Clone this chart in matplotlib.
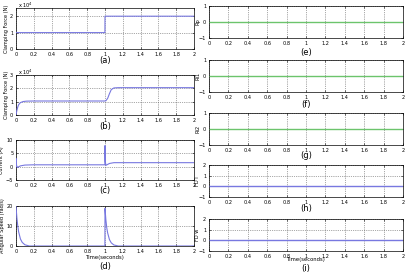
import matplotlib
matplotlib.use("Agg")
import matplotlib.pyplot as plt
from matplotlib.ticker import FuncFormatter

# ---- data ----
x_ticks = [0, 0.2, 0.4, 0.6, 0.8, 1, 1.2, 1.4, 1.6, 1.8, 2]
x_tick_labels = ["0", "0.2", "0.4", "0.6", "0.8", "1", "1.2", "1.4", "1.6", "1.8", "2"]

t_a = [0, 0.999, 1.0, 2.0]
force_a = [10000, 10000, 20000, 20000]

t_b = [0, 0.01, 0.02, 0.03, 0.05, 0.08, 0.12, 0.2, 1.0, 1.01, 1.03, 1.05, 1.07, 1.1, 1.15, 2.0]
force_b = [0, 3500, 6000, 7800, 9300, 10100, 10400, 10500, 10500, 10700, 12500, 16000, 19000, 20300, 20500, 20500]

t_c = [0, 0.002, 0.006, 0.015, 0.05, 0.1, 0.2, 0.999, 1.0, 1.003, 1.01, 1.05, 1.1, 2.0]
current_c = [0, 3.0, 0.5, -0.3, 0.3, 0.6, 0.7, 0.7, 7.9, 2.0, 0.5, 1.2, 1.5, 1.5]

t_d = [0, 0.01, 0.02, 0.03, 0.05, 0.07, 0.1, 0.15, 0.999, 1.0, 1.01, 1.02, 1.03, 1.05, 1.07, 1.1, 1.15, 2.0]
speed_d = [20, 14, 10, 7, 3.5, 1.8, 0.6, 0, 0, 18.8, 13, 9, 6.5, 3.2, 1.6, 0.5, 0, 0]

t_flat = [0, 2]
err_e = [0, 0]
err_f = [0, 0]
err_g = [0, 0]
err_h = [0, 0]
err_i = [0, 0]

left_labels = ["(a)", "(b)", "(c)", "(d)"]
right_labels = ["(e)", "(f)", "(g)", "(h)", "(i)"]
left_ylabels = ["Clamping Force (N)", "Clamping Force (N)", "Current (A)", "Angular Speed (rad/s)"]
right_ylabels = ["Rp", "Ri1", "Ri2", "FD i", "FD w"]

BLUE = "#7878e0"
GREEN = "#6cc46c"

W, H = 408, 272
fig = plt.figure(figsize=(W / 100, H / 100), dpi=100)

def px_axes(x0, y0, x1, y1):
    return fig.add_axes([x0 / W, 1 - y1 / H, (x1 - x0) / W, (y1 - y0) / H])

TICK_FS = 3.6
LAB_FS = 3.6

def style(ax):
    ax.set_xlim(0, 2)
    ax.set_xticks(x_ticks)
    ax.set_xticklabels(x_tick_labels)
    ax.tick_params(labelsize=TICK_FS, length=1.5, width=0.4, pad=2, direction="in",
                   top=True, right=True)
    ax.grid(True, color="#555555", linestyle=":", linewidth=0.5)
    ax.set_axisbelow(True)
    for s in ax.spines.values():
        s.set_linewidth(0.5)

# left column
left_boxes = [(8, 49), (75, 115), (140, 180), (206, 246)]
left_series = [(t_a, force_a), (t_b, force_b), (t_c, current_c), (t_d, speed_d)]
left_ylims = [(0, 25000), (0, 30000), (-5, 10), (0, 20)]
left_yticks = [[0, 10000, 20000], [0, 10000, 20000, 30000], [-5, 0, 5, 10], [0, 10, 20]]
left_label_y = [61, 126, 191, 266]

for k in range(4):
    y0, y1 = left_boxes[k]
    ax = px_axes(16, y0, 194, y1)
    t, v = left_series[k]
    ax.plot(t, v, color=BLUE, linewidth=0.8, zorder=3)
    style(ax)
    ax.set_ylim(*left_ylims[k])
    ax.set_yticks(left_yticks[k])
    if k < 2:
        ax.yaxis.set_major_formatter(FuncFormatter(lambda v, p: f"{v / 1e4:g}"))
        fig.text(18 / W, 1 - (y0 - 3) / H, r"x 10$^4$", fontsize=3.6, ha="left", va="center")
    ax.set_ylabel(left_ylabels[k], fontsize=LAB_FS, labelpad=1)
    fig.text(105 / W, 1 - left_label_y[k] / H, left_labels[k], fontsize=6, ha="center", va="center")

fig.text(105 / W, 1 - 257.5 / H, "Time(seconds)", fontsize=3.8, ha="center", va="center")

# right column
right_boxes = [(6, 38), (60, 92), (113, 145), (165, 197), (219, 251)]
right_series = [err_e, err_f, err_g, err_h, err_i]
right_colors = [GREEN, GREEN, GREEN, BLUE, BLUE]
right_ylims = [(-1, 1), (-1, 1), (-1, 1), (-1, 2), (-1, 2)]
right_yticks = [[-1, 0, 1], [-1, 0, 1], [-1, 0, 1], [-1, 0, 1, 2], [-1, 0, 1, 2]]
right_label_y = [53, 104, 156, 208, 268]

for k in range(5):
    y0, y1 = right_boxes[k]
    ax = px_axes(209, y0, 403, y1)
    ax.plot(t_flat, right_series[k], color=right_colors[k], linewidth=1.0, zorder=3,
            solid_capstyle="butt")
    style(ax)
    ax.set_ylim(*right_ylims[k])
    ax.set_yticks(right_yticks[k])
    ax.set_ylabel(right_ylabels[k], fontsize=LAB_FS)
    ax.yaxis.set_label_coords(-0.045, 0.5)
    fig.text(306 / W, 1 - right_label_y[k] / H, right_labels[k], fontsize=6, ha="center", va="center")

fig.text(306 / W, 1 - 260 / H, "Time(seconds)", fontsize=3.8, ha="center", va="center")

fig.savefig("out.png", dpi=100)
